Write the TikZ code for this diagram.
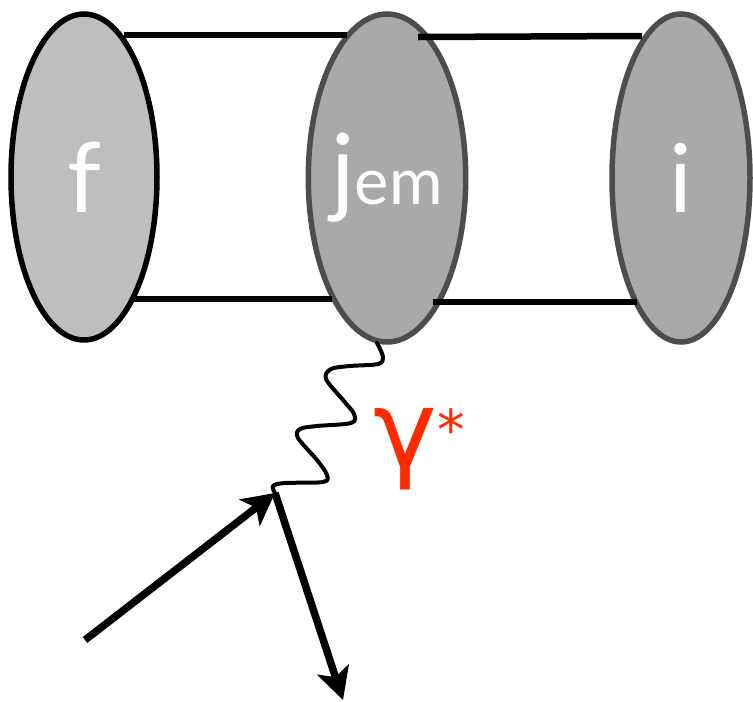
\documentclass[tikz,border=0pt]{standalone}
\usepackage{fontspec}
\setmainfont{Lato}
\newfontfamily\greekfont{DejaVu Sans}
\usetikzlibrary{shapes.geometric,arrows.meta}
\definecolor{fgray}{HTML}{BEBEBE}
\definecolor{dgray}{HTML}{A9A9A9}
\definecolor{edgegray}{HTML}{4D4D4D}
\definecolor{gred}{HTML}{FF2A00}
\begin{document}
\begin{tikzpicture}[x=1pt,y=-1pt,
  blob/.style={ellipse, inner sep=0pt, line width=5.5pt, text=white},
  bar/.style={line width=6.5pt},
  mom/.style={line width=7.5pt, -{Stealth[length=32pt,width=33pt,inset=8pt]}},
  photon/.style={line width=4pt, line join=round, line cap=round}]
\useasboundingbox (0,0) rectangle (753,702);
% blobs
\node[blob, draw=black, fill=fgray, minimum width=146pt, minimum height=326pt,
      font=\fontsize{97}{97}\selectfont] (f) at (84,177) {f};
\node[blob, draw=edgegray, fill=dgray, minimum width=144pt, minimum height=328pt] (j) at (387,178)
      {\fontsize{98}{98}\selectfont j\fontsize{65}{65}\selectfont em};
\node[blob, draw=edgegray, fill=dgray, minimum width=138pt, minimum height=328pt,
      font=\fontsize{95}{95}\selectfont] (i) at (681,178) {i};
% bar end points
\coordinate (ft) at (124,35);
\coordinate (jtl) at (347,35);
\coordinate (jtr) at (418,37);
\coordinate (it) at (642,36);
\coordinate (fb) at (132,299);
\coordinate (jbl) at (332,299);
\coordinate (jbr) at (433,302);
\coordinate (ib) at (637,302);
\draw[bar] (ft) -- (jtl);
\draw[bar] (jtr) -- (it);
\draw[bar] (fb) -- (jbl);
\draw[bar] (jbr) -- (ib);
% photon
\coordinate (ps) at (377,343);
\coordinate (v) at (275,493);
\draw[photon] plot[smooth, tension=0.55] coordinates {(ps) (383,357) (378,364) (350,366) (331,369)
  (326,379) (343,400) (354,414) (351,423) (317,426) (300,429) (298,438) (317,460)
  (327,475) (323,482) (285,483) (273,486) (v)};
% label
\node[text=gred, anchor=base west, inner sep=0pt, font=\greekfont\fontsize{108}{108}\selectfont] (g) at (373,467)
  {γ\raisebox{18pt}{\fontsize{55}{55}\selectfont *}};
% momenta
\coordinate (kin) at (85,640);
\coordinate (kout) at (343,700);
\draw[mom] (kin) -- (v);
\draw[mom] (v) -- (kout);
\end{tikzpicture}
\end{document}
